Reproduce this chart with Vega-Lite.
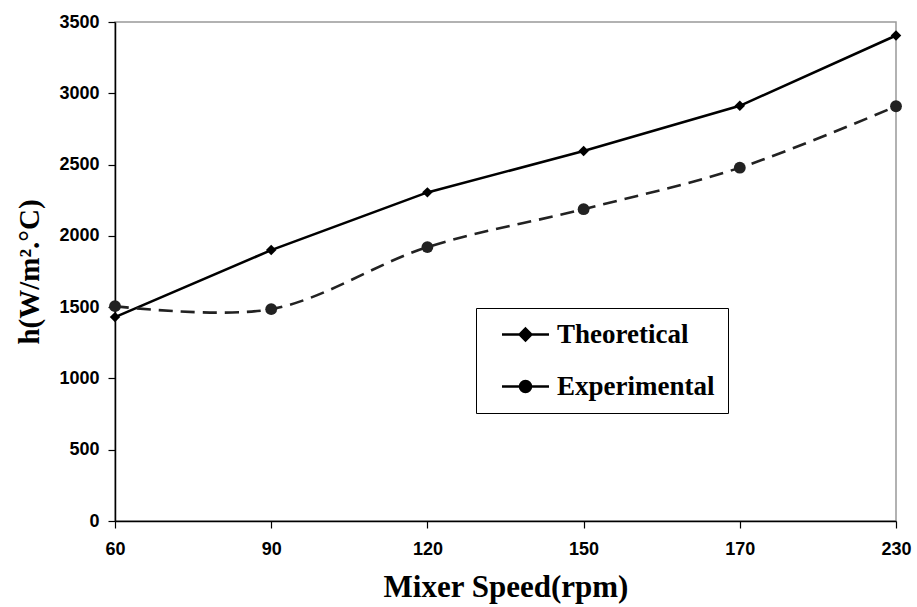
{
  "$schema": "https://vega.github.io/schema/vega-lite/v6.json",
  "autosize": "none",
  "width": 781,
  "height": 499,
  "padding": {"left": 115, "top": 22, "right": 21, "bottom": 86},
  "background": "white",
  "config": {
    "view": {"stroke": "#999999", "strokeWidth": 1.5},
    "axis": {"grid": false, "domainColor": "black", "tickColor": "black", "domainWidth": 1.5, "tickWidth": 1.2, "labelFont": "Liberation Sans", "labelFontWeight": "bold", "labelFontSize": 18, "labelColor": "black", "titleFont": "Liberation Serif", "titleFontWeight": "bold", "titleColor": "black"}
  },
  "data": {"values": [
    {"speed": "60", "series": "Theoretical", "h": 1430},
    {"speed": "90", "series": "Theoretical", "h": 1900},
    {"speed": "120", "series": "Theoretical", "h": 2305},
    {"speed": "150", "series": "Theoretical", "h": 2595},
    {"speed": "170", "series": "Theoretical", "h": 2912},
    {"speed": "230", "series": "Theoretical", "h": 3405},
    {"speed": "60", "series": "Experimental", "h": 1507},
    {"speed": "90", "series": "Experimental", "h": 1486},
    {"speed": "120", "series": "Experimental", "h": 1921},
    {"speed": "150", "series": "Experimental", "h": 2187},
    {"speed": "170", "series": "Experimental", "h": 2478},
    {"speed": "230", "series": "Experimental", "h": 2909}
  ]},
  "encoding": {
    "x": {"field": "speed", "type": "ordinal", "sort": ["60", "90", "120", "150", "170", "230"],
      "scale": {"type": "point", "padding": 0},
      "axis": {"title": "Mixer Speed(rpm)", "titleFontSize": 31, "titlePadding": 14, "labelAngle": 0, "labelFontSize": 18, "tickSize": 7, "labelPadding": 12}},
    "y": {"field": "h", "type": "quantitative",
      "scale": {"domain": [0, 3500], "nice": false, "zero": true},
      "axis": {"title": "h(W/m².°C)", "titleFontSize": 29, "titlePadding": 14, "format": "d", "labelFontSize": 18, "values": [0, 500, 1000, 1500, 2000, 2500, 3000, 3500], "tickSize": 7, "labelPadding": 9}}
  },
  "layer": [
    {
      "transform": [{"filter": "datum.series === 'Theoretical'"}],
      "mark": {"type": "line", "color": "black", "strokeWidth": 2.6}
    },
    {
      "transform": [{"filter": "datum.series === 'Experimental'"}],
      "mark": {"type": "line", "color": "#222222", "strokeWidth": 2.6, "strokeDash": [14, 8], "interpolate": "catmull-rom"}
    },
    {
      "transform": [{"filter": "datum.series === 'Theoretical'"}],
      "mark": {"type": "point", "filled": true, "opacity": 1, "color": "black", "shape": "diamond", "size": 110}
    },
    {
      "transform": [{"filter": "datum.series === 'Experimental'"}],
      "mark": {"type": "point", "filled": true, "opacity": 1, "color": "#222222", "shape": "circle", "size": 140}
    },
    {
      "transform": [{"filter": "datum.h < 0"}],
      "mark": {"type": "point", "filled": false, "opacity": 1, "color": "black"},
      "encoding": {
        "shape": {"field": "series", "type": "nominal",
          "scale": {"domain": ["Theoretical", "Experimental"], "range": [
            "M-2,0L2,0M0,-0.5L0.5,0L0,0.5L-0.5,0ZM0,-0.28L0.28,0L0,0.28L-0.28,0ZM0,-0.08L0.08,0L0,0.08L-0.08,0Z",
            "M-2,0L2,0M0.47,0A0.47,0.47 0 1,1 -0.47,0A0.47,0.47 0 1,1 0.47,0ZM0.28,0A0.28,0.28 0 1,1 -0.28,0A0.28,0.28 0 1,1 0.28,0ZM0.1,0A0.1,0.1 0 1,1 -0.1,0A0.1,0.1 0 1,1 0.1,0Z"]},
          "legend": {
            "title": null, "orient": "none", "legendX": 361, "legendY": 286,
            "strokeColor": "black", "fillColor": "white", "padding": 13,
            "labelFont": "Liberation Serif", "labelFontWeight": "bold", "labelFontSize": 27, "labelColor": "black",
            "symbolSize": 552, "symbolStrokeWidth": 2.5, "symbolStrokeColor": "black", "symbolOpacity": 1,
            "symbolOffset": 23, "rowPadding": 24, "labelOffset": 18
          }}
      }
    }
  ]
}
